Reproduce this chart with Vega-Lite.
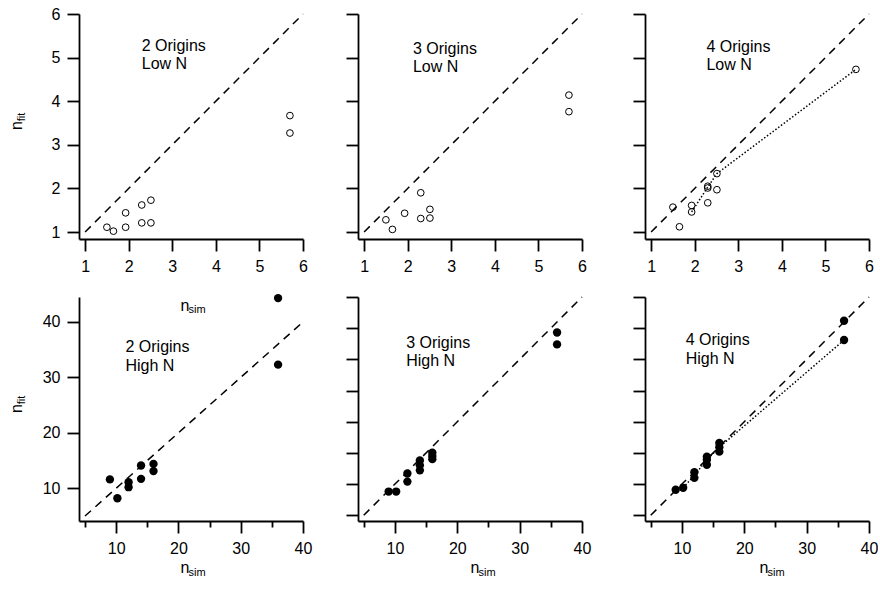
{
  "$schema": "https://vega.github.io/schema/vega-lite/v6.json",
  "padding": {"left": 8, "top": 6, "right": 0, "bottom": 0},
  "background": "white",
  "config": {
    "view": {"stroke": null},
    "font": "Liberation Sans",
    "axis": {
      "grid": false,
      "ticks": true,
      "domainColor": "black",
      "domainWidth": 1.8,
      "tickColor": "black",
      "tickWidth": 1.8,
      "tickOpacity": 1,
      "labelFont": "Liberation Sans",
      "labelFontSize": 16,
      "labelColor": "black",
      "labelPadding": 7,
      "labelFlush": false,
      "labelOverlap": false,
      "titleFont": "Liberation Sans",
      "titleFontSize": 16,
      "titleFontWeight": "normal",
      "titleColor": "black"
    },
    "text": {"font": "Liberation Sans", "color": "black", "fontSize": 16}
  },
  "datasets": {
    "runs": [
      {"origins": 2, "regime": "Low N", "sim": 1.5, "fit": 1.11},
      {"origins": 2, "regime": "Low N", "sim": 1.65, "fit": 1.02},
      {"origins": 2, "regime": "Low N", "sim": 1.93, "fit": 1.44},
      {"origins": 2, "regime": "Low N", "sim": 1.93, "fit": 1.11},
      {"origins": 2, "regime": "Low N", "sim": 2.3, "fit": 1.62},
      {"origins": 2, "regime": "Low N", "sim": 2.3, "fit": 1.21},
      {"origins": 2, "regime": "Low N", "sim": 2.51, "fit": 1.73},
      {"origins": 2, "regime": "Low N", "sim": 2.51, "fit": 1.21},
      {"origins": 2, "regime": "Low N", "sim": 5.7, "fit": 3.67},
      {"origins": 2, "regime": "Low N", "sim": 5.7, "fit": 3.27},
      {"origins": 3, "regime": "Low N", "sim": 1.5, "fit": 1.28},
      {"origins": 3, "regime": "Low N", "sim": 1.65, "fit": 1.06},
      {"origins": 3, "regime": "Low N", "sim": 1.93, "fit": 1.43},
      {"origins": 3, "regime": "Low N", "sim": 2.3, "fit": 1.9},
      {"origins": 3, "regime": "Low N", "sim": 2.3, "fit": 1.31},
      {"origins": 3, "regime": "Low N", "sim": 2.51, "fit": 1.52},
      {"origins": 3, "regime": "Low N", "sim": 2.51, "fit": 1.32},
      {"origins": 3, "regime": "Low N", "sim": 5.7, "fit": 4.14},
      {"origins": 3, "regime": "Low N", "sim": 5.7, "fit": 3.76},
      {"origins": 4, "regime": "Low N", "sim": 1.5, "fit": 1.57},
      {"origins": 4, "regime": "Low N", "sim": 1.65, "fit": 1.12},
      {"origins": 4, "regime": "Low N", "sim": 1.93, "fit": 1.61},
      {"origins": 4, "regime": "Low N", "sim": 1.93, "fit": 1.46},
      {"origins": 4, "regime": "Low N", "sim": 2.3, "fit": 2.05},
      {"origins": 4, "regime": "Low N", "sim": 2.3, "fit": 2.01},
      {"origins": 4, "regime": "Low N", "sim": 2.3, "fit": 1.67},
      {"origins": 4, "regime": "Low N", "sim": 2.51, "fit": 2.34},
      {"origins": 4, "regime": "Low N", "sim": 2.51, "fit": 1.97},
      {"origins": 4, "regime": "Low N", "sim": 5.7, "fit": 4.73},
      {"origins": 2, "regime": "High N", "sim": 9, "fit": 11.6},
      {"origins": 2, "regime": "High N", "sim": 10.2, "fit": 8.2},
      {"origins": 2, "regime": "High N", "sim": 12, "fit": 11.1},
      {"origins": 2, "regime": "High N", "sim": 12, "fit": 10.2},
      {"origins": 2, "regime": "High N", "sim": 14, "fit": 14.1},
      {"origins": 2, "regime": "High N", "sim": 14, "fit": 11.7},
      {"origins": 2, "regime": "High N", "sim": 16, "fit": 14.4},
      {"origins": 2, "regime": "High N", "sim": 16, "fit": 13.1},
      {"origins": 2, "regime": "High N", "sim": 36, "fit": 44.3},
      {"origins": 2, "regime": "High N", "sim": 36, "fit": 32.3},
      {"origins": 3, "regime": "High N", "sim": 9, "fit": 8.8},
      {"origins": 3, "regime": "High N", "sim": 10.2, "fit": 8.8},
      {"origins": 3, "regime": "High N", "sim": 12, "fit": 11.7},
      {"origins": 3, "regime": "High N", "sim": 12, "fit": 10.4},
      {"origins": 3, "regime": "High N", "sim": 14, "fit": 13.8},
      {"origins": 3, "regime": "High N", "sim": 14, "fit": 13.0},
      {"origins": 3, "regime": "High N", "sim": 14, "fit": 12.2},
      {"origins": 3, "regime": "High N", "sim": 16, "fit": 15.05},
      {"origins": 3, "regime": "High N", "sim": 16, "fit": 14.5},
      {"origins": 3, "regime": "High N", "sim": 16, "fit": 14.0},
      {"origins": 3, "regime": "High N", "sim": 36, "fit": 34.3},
      {"origins": 3, "regime": "High N", "sim": 36, "fit": 32.4},
      {"origins": 4, "regime": "High N", "sim": 9, "fit": 9.1},
      {"origins": 4, "regime": "High N", "sim": 10.2, "fit": 9.4},
      {"origins": 4, "regime": "High N", "sim": 12, "fit": 11.9},
      {"origins": 4, "regime": "High N", "sim": 12, "fit": 11.0},
      {"origins": 4, "regime": "High N", "sim": 14, "fit": 14.4},
      {"origins": 4, "regime": "High N", "sim": 14, "fit": 13.9},
      {"origins": 4, "regime": "High N", "sim": 14, "fit": 13.1},
      {"origins": 4, "regime": "High N", "sim": 16, "fit": 16.6},
      {"origins": 4, "regime": "High N", "sim": 16, "fit": 15.9},
      {"origins": 4, "regime": "High N", "sim": 16, "fit": 15.2},
      {"origins": 4, "regime": "High N", "sim": 36, "fit": 36.2},
      {"origins": 4, "regime": "High N", "sim": 36, "fit": 33.1}
    ],
    "trend": [
      {"origins": 4, "regime": "Low N", "sim": 1.93, "fit": 1.46},
      {"origins": 4, "regime": "Low N", "sim": 2.3, "fit": 2.03},
      {"origins": 4, "regime": "Low N", "sim": 2.51, "fit": 2.34},
      {"origins": 4, "regime": "Low N", "sim": 5.7, "fit": 4.73},
      {"origins": 4, "regime": "High N", "sim": 10.2, "fit": 9.4},
      {"origins": 4, "regime": "High N", "sim": 12, "fit": 11.4},
      {"origins": 4, "regime": "High N", "sim": 14, "fit": 13.9},
      {"origins": 4, "regime": "High N", "sim": 16, "fit": 15.9},
      {"origins": 4, "regime": "High N", "sim": 36, "fit": 33.1}
    ]
  },
  "spacing": 19,
  "vconcat": [
    {
      "spacing": 55,
      "bounds": "flush",
      "hconcat": [
        {
          "width": 224, "height": 225,
          "resolve": {"axis": {"x": "independent", "y": "independent"}},
          "layer": [
            {
              "data": {"values": [{}]},
              "mark": {"type": "rule", "color": "black", "strokeWidth": 1.5, "strokeDash": [8, 6]},
              "encoding": {
                "x": {"datum": 1, "type": "quantitative", "scale": {"domain": [0.86, 6], "nice": false, "zero": false}, "axis": null},
                "y": {"datum": 1, "type": "quantitative", "scale": {"domain": [0.84, 6], "nice": false, "zero": false},
                      "axis": {"orient": "right", "domain": false, "ticks": false, "labels": false, "title": "fit", "titleFontSize": 11, "titleAngle": 270, "titleAlign": "center", "titleBaseline": "alphabetic", "titleX": -279, "titleY": 102.5}},
                "x2": {"datum": 6},
                "y2": {"datum": 6}
              }
            },
            {
              "data": {"name": "runs"},
              "transform": [{"filter": "datum.origins === 2 && datum.regime === 'Low N'"}],
              "mark": {"type": "point", "shape": "circle", "filled": false, "color": "black", "strokeWidth": 1, "size": 45, "opacity": 1},
              "encoding": {
                "x": {"field": "sim", "type": "quantitative", "scale": {"domain": [0.86, 6], "nice": false, "zero": false},
                      "axis": {"orient": "bottom", "values": [1, 2, 3, 4, 5, 6], "tickSize": {"condition": {"test": "datum.value > 0", "value": 12}, "value": 12}, "title": null}},
                "y": {"field": "fit", "type": "quantitative", "scale": {"domain": [0.84, 6], "nice": false, "zero": false},
                      "axis": {"orient": "left", "values": [1, 2, 3, 4, 5, 6], "tickSize": {"condition": {"test": "datum.value > 0", "value": 12}, "value": 12}, "title": "n", "titleAngle": 270, "titleAlign": "center", "titleBaseline": "alphabetic", "titleX": -58, "titleY": 111}}
              }
            },
            {
              "data": {"values": [{}]},
              "mark": {"type": "text", "align": "left", "baseline": "alphabetic", "fontSize": 16, "lineHeight": 18.5},
              "encoding": {
                "x": {"datum": 2.3, "type": "quantitative", "axis": null},
                "y": {"datum": 5.16, "type": "quantitative", "axis": null},
                "text": {"value": ["2 Origins", "Low N"]}
              }
            }
          ]
        },
        {
          "spacing": 63,
          "bounds": "flush",
          "hconcat": [
            {
              "width": 224, "height": 225,
              "resolve": {"axis": {"x": "independent", "y": "independent"}},
              "layer": [
                {
                  "data": {"values": [{}]},
                  "mark": {"type": "rule", "color": "black", "strokeWidth": 1.5, "strokeDash": [8, 6]},
                  "encoding": {
                    "x": {"datum": 1, "type": "quantitative", "scale": {"domain": [0.86, 6], "nice": false, "zero": false}, "axis": null},
                    "y": {"datum": 1, "type": "quantitative", "scale": {"domain": [0.84, 6], "nice": false, "zero": false}, "axis": null},
                    "x2": {"datum": 6},
                    "y2": {"datum": 6}
                  }
                },
                {
                  "data": {"name": "runs"},
                  "transform": [{"filter": "datum.origins === 3 && datum.regime === 'Low N'"}],
                  "mark": {"type": "point", "shape": "circle", "filled": false, "color": "black", "strokeWidth": 1, "size": 45, "opacity": 1},
                  "encoding": {
                    "x": {"field": "sim", "type": "quantitative", "scale": {"domain": [0.86, 6], "nice": false, "zero": false},
                          "axis": {"orient": "bottom", "values": [1, 2, 3, 4, 5, 6], "tickSize": {"condition": {"test": "datum.value > 0", "value": 12}, "value": 12}, "title": null}},
                    "y": {"field": "fit", "type": "quantitative", "scale": {"domain": [0.84, 6], "nice": false, "zero": false},
                          "axis": {"orient": "left", "values": [1, 2, 3, 4, 5, 6], "tickSize": {"condition": {"test": "datum.value > 0", "value": 12}, "value": 12}, "labels": false, "title": null}}
                  }
                },
                {
                  "data": {"values": [{}]},
                  "mark": {"type": "text", "align": "left", "baseline": "alphabetic", "fontSize": 16, "lineHeight": 18.5},
                  "encoding": {
                    "x": {"datum": 2.12, "type": "quantitative", "axis": null},
                    "y": {"datum": 5.09, "type": "quantitative", "axis": null},
                    "text": {"value": ["3 Origins", "Low N"]}
                  }
                }
              ]
            },
            {
              "width": 224, "height": 225,
              "resolve": {"axis": {"x": "independent", "y": "independent"}},
              "layer": [
                {
                  "data": {"values": [{}]},
                  "mark": {"type": "rule", "color": "black", "strokeWidth": 1.5, "strokeDash": [8, 6]},
                  "encoding": {
                    "x": {"datum": 1, "type": "quantitative", "scale": {"domain": [0.86, 6], "nice": false, "zero": false}, "axis": null},
                    "y": {"datum": 1, "type": "quantitative", "scale": {"domain": [0.84, 6], "nice": false, "zero": false}, "axis": null},
                    "x2": {"datum": 6},
                    "y2": {"datum": 6}
                  }
                },
                {
                  "data": {"name": "trend"},
                  "transform": [{"filter": "datum.regime === 'Low N'"}],
                  "mark": {"type": "line", "color": "black", "strokeWidth": 1.5, "strokeDash": [1.5, 2]},
                  "encoding": {
                    "x": {"field": "sim", "type": "quantitative", "axis": null},
                    "y": {"field": "fit", "type": "quantitative", "axis": null}
                  }
                },
                {
                  "data": {"name": "runs"},
                  "transform": [{"filter": "datum.origins === 4 && datum.regime === 'Low N'"}],
                  "mark": {"type": "point", "shape": "circle", "filled": false, "color": "black", "strokeWidth": 1, "size": 45, "opacity": 1},
                  "encoding": {
                    "x": {"field": "sim", "type": "quantitative", "scale": {"domain": [0.86, 6], "nice": false, "zero": false},
                          "axis": {"orient": "bottom", "values": [1, 2, 3, 4, 5, 6], "tickSize": {"condition": {"test": "datum.value > 0", "value": 12}, "value": 12}, "title": null}},
                    "y": {"field": "fit", "type": "quantitative", "scale": {"domain": [0.84, 6], "nice": false, "zero": false},
                          "axis": {"orient": "left", "values": [1, 2, 3, 4, 5, 6], "tickSize": {"condition": {"test": "datum.value > 0", "value": 12}, "value": 12}, "labels": false, "title": null}}
                  }
                },
                {
                  "data": {"values": [{}]},
                  "mark": {"type": "text", "align": "left", "baseline": "alphabetic", "fontSize": 16, "lineHeight": 18.5},
                  "encoding": {
                    "x": {"datum": 2.27, "type": "quantitative", "axis": null},
                    "y": {"datum": 5.14, "type": "quantitative", "axis": null},
                    "text": {"value": ["4 Origins", "Low N"]}
                  }
                }
              ]
            }
          ]
        }
      ]
    },
    {
      "spacing": 55,
      "bounds": "flush",
      "hconcat": [
        {
          "width": 224, "height": 224,
          "resolve": {"axis": {"x": "independent", "y": "independent"}},
          "layer": [
            {
              "data": {"values": [{}]},
              "mark": {"type": "rule", "color": "black", "strokeWidth": 1.5, "strokeDash": [8, 6]},
              "encoding": {
                "x": {"datum": 5, "type": "quantitative", "scale": {"domain": [4.04, 40], "nice": false, "zero": false},
                      "axis": {"orient": "top", "domain": false, "ticks": false, "labels": false, "title": "sim", "titleFontSize": 11, "titleAlign": "left", "titleBaseline": "alphabetic", "titleX": 109, "titleY": 278}},
                "y": {"datum": 5, "type": "quantitative", "scale": {"domain": [4.1, 44.5], "nice": false, "zero": false},
                      "axis": {"orient": "right", "domain": false, "ticks": false, "labels": false, "title": "fit", "titleFontSize": 11, "titleAngle": 270, "titleAlign": "center", "titleBaseline": "alphabetic", "titleX": -279, "titleY": 102.5}},
                "x2": {"datum": 40},
                "y2": {"datum": 40}
              }
            },
            {
              "data": {"name": "runs"},
              "transform": [{"filter": "datum.origins === 2 && datum.regime === 'High N'"}],
              "mark": {"type": "circle", "color": "black", "size": 70, "opacity": 1},
              "encoding": {
                "x": {"field": "sim", "type": "quantitative", "scale": {"domain": [4.04, 40], "nice": false, "zero": false},
                      "axis": {"orient": "bottom", "values": [5, 10, 15, 20, 25, 30, 35, 40],
                               "labelExpr": "datum.value % 10 === 0 ? datum.label : ''",
                               "tickSize": {"condition": {"test": "datum.value % 10 === 0", "value": 12}, "value": 6},
                               "title": "n", "titleAlign": "left", "titleBaseline": "alphabetic", "titleX": 101, "titleY": 51.5}},
                "y": {"field": "fit", "type": "quantitative", "scale": {"domain": [4.1, 44.5], "nice": false, "zero": false},
                      "axis": {"orient": "left", "values": [10, 20, 30, 40], "tickSize": {"condition": {"test": "datum.value > 0", "value": 12}, "value": 12}, "title": "n", "titleAngle": 270, "titleAlign": "center", "titleBaseline": "alphabetic", "titleX": -58, "titleY": 111}}
              }
            },
            {
              "data": {"values": [{}]},
              "mark": {"type": "text", "align": "left", "baseline": "alphabetic", "fontSize": 16, "lineHeight": 18.5},
              "encoding": {
                "x": {"datum": 11.5, "type": "quantitative",
                      "axis": {"orient": "top", "domain": false, "ticks": false, "labels": false, "title": "n", "titleAlign": "left", "titleBaseline": "alphabetic", "titleX": 101, "titleY": 13}},
                "y": {"datum": 34.5, "type": "quantitative",
                      "axis": {"orient": "right", "domain": false, "ticks": false, "labels": false, "title": "sim", "titleFontSize": 11, "titleAngle": 0, "titleAlign": "left", "titleBaseline": "alphabetic", "titleX": -115, "titleY": 15.5}},
                "text": {"value": ["2 Origins", "High N"]}
              }
            }
          ]
        },
        {
          "spacing": 63,
          "bounds": "flush",
          "hconcat": [
            {
              "width": 224, "height": 224,
              "resolve": {"axis": {"x": "independent", "y": "independent"}},
              "layer": [
                {
                  "data": {"values": [{}]},
                  "mark": {"type": "rule", "color": "black", "strokeWidth": 1.5, "strokeDash": [8, 6]},
                  "encoding": {
                    "x": {"datum": 5, "type": "quantitative", "scale": {"domain": [4.08, 40], "nice": false, "zero": false},
                          "axis": {"orient": "top", "domain": false, "ticks": false, "labels": false, "title": "sim", "titleFontSize": 11, "titleAlign": "left", "titleBaseline": "alphabetic", "titleX": 120, "titleY": 278}},
                    "y": {"datum": 5, "type": "quantitative", "scale": {"domain": [4.08, 40], "nice": false, "zero": false}, "axis": null},
                    "x2": {"datum": 40},
                    "y2": {"datum": 40}
                  }
                },
                {
                  "data": {"name": "runs"},
                  "transform": [{"filter": "datum.origins === 3 && datum.regime === 'High N'"}],
                  "mark": {"type": "circle", "color": "black", "size": 70, "opacity": 1},
                  "encoding": {
                    "x": {"field": "sim", "type": "quantitative", "scale": {"domain": [4.08, 40], "nice": false, "zero": false},
                          "axis": {"orient": "bottom", "values": [5, 10, 15, 20, 25, 30, 35, 40],
                                   "labelExpr": "datum.value % 10 === 0 ? datum.label : ''",
                                   "tickSize": {"condition": {"test": "datum.value % 10 === 0", "value": 12}, "value": 6},
                                   "title": "n", "titleAlign": "left", "titleBaseline": "alphabetic", "titleX": 112, "titleY": 51.5}},
                    "y": {"field": "fit", "type": "quantitative", "scale": {"domain": [4.08, 40], "nice": false, "zero": false},
                          "axis": {"orient": "left", "values": [5, 10, 15, 20, 25, 30, 35, 40], "tickSize": {"condition": {"test": "datum.value > 0", "value": 12}, "value": 12}, "labels": false, "title": null}}
                  }
                },
                {
                  "data": {"values": [{}]},
                  "mark": {"type": "text", "align": "left", "baseline": "alphabetic", "fontSize": 16, "lineHeight": 18.5},
                  "encoding": {
                    "x": {"datum": 11.8, "type": "quantitative", "axis": null},
                    "y": {"datum": 31.9, "type": "quantitative", "axis": null},
                    "text": {"value": ["3 Origins", "High N"]}
                  }
                }
              ]
            },
            {
              "width": 224, "height": 224,
              "resolve": {"axis": {"x": "independent", "y": "independent"}},
              "layer": [
                {
                  "data": {"values": [{}]},
                  "mark": {"type": "rule", "color": "black", "strokeWidth": 1.5, "strokeDash": [8, 6]},
                  "encoding": {
                    "x": {"datum": 5, "type": "quantitative", "scale": {"domain": [4.08, 40], "nice": false, "zero": false},
                          "axis": {"orient": "top", "domain": false, "ticks": false, "labels": false, "title": "sim", "titleFontSize": 11, "titleAlign": "left", "titleBaseline": "alphabetic", "titleX": 122, "titleY": 278}},
                    "y": {"datum": 5, "type": "quantitative", "scale": {"domain": [4.08, 40], "nice": false, "zero": false}, "axis": null},
                    "x2": {"datum": 40},
                    "y2": {"datum": 40}
                  }
                },
                {
                  "data": {"name": "trend"},
                  "transform": [{"filter": "datum.regime === 'High N'"}],
                  "mark": {"type": "line", "color": "black", "strokeWidth": 1.5, "strokeDash": [1.5, 2]},
                  "encoding": {
                    "x": {"field": "sim", "type": "quantitative", "axis": null},
                    "y": {"field": "fit", "type": "quantitative", "axis": null}
                  }
                },
                {
                  "data": {"name": "runs"},
                  "transform": [{"filter": "datum.origins === 4 && datum.regime === 'High N'"}],
                  "mark": {"type": "circle", "color": "black", "size": 70, "opacity": 1},
                  "encoding": {
                    "x": {"field": "sim", "type": "quantitative", "scale": {"domain": [4.08, 40], "nice": false, "zero": false},
                          "axis": {"orient": "bottom", "values": [5, 10, 15, 20, 25, 30, 35, 40],
                                   "labelExpr": "datum.value % 10 === 0 ? datum.label : ''",
                                   "tickSize": {"condition": {"test": "datum.value % 10 === 0", "value": 12}, "value": 6},
                                   "title": "n", "titleAlign": "left", "titleBaseline": "alphabetic", "titleX": 114, "titleY": 51.5}},
                    "y": {"field": "fit", "type": "quantitative", "scale": {"domain": [4.08, 40], "nice": false, "zero": false},
                          "axis": {"orient": "left", "values": [5, 10, 15, 20, 25, 30, 35, 40], "tickSize": {"condition": {"test": "datum.value > 0", "value": 12}, "value": 12}, "labels": false, "title": null}}
                  }
                },
                {
                  "data": {"values": [{}]},
                  "mark": {"type": "text", "align": "left", "baseline": "alphabetic", "fontSize": 16, "lineHeight": 18.5},
                  "encoding": {
                    "x": {"datum": 10.6, "type": "quantitative", "axis": null},
                    "y": {"datum": 32.3, "type": "quantitative", "axis": null},
                    "text": {"value": ["4 Origins", "High N"]}
                  }
                }
              ]
            }
          ]
        }
      ]
    }
  ]
}
